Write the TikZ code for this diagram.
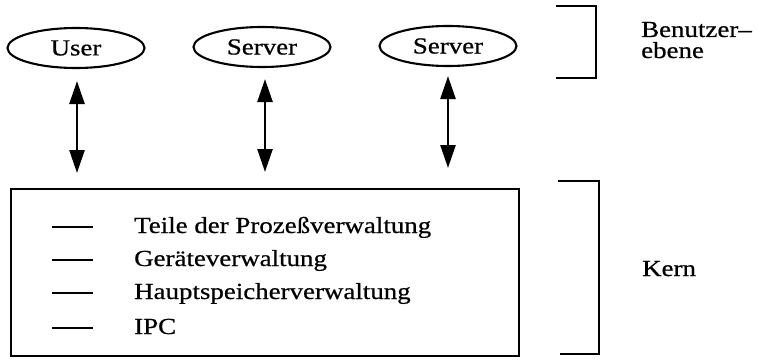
\documentclass[tikz,border=0pt]{standalone}
\usepackage{fontspec}
\setmainfont{Liberation Serif}[FakeStretch=1.17,FakeBold=0.6]
\usetikzlibrary{arrows.meta,shapes.geometric}

\begin{document}
\begin{tikzpicture}[x=1pt,y=-1pt,
  txt/.style={font=\fontsize{23}{21}\selectfont, inner sep=0pt},
  proc/.style={draw, ellipse, line width=2.1pt, minimum width=137pt,
    minimum height=40pt, inner sep=0pt, font=\fontsize{23}{26}\selectfont},
  link/.style={line width=2.6pt,
    {Triangle[length=23pt,width=15pt]}-{Triangle[length=23pt,width=15pt]}},
  frame/.style={line width=2.1pt},
  bar/.style={line width=2.2pt},
  ]
\useasboundingbox (0,0) rectangle (757,361);

% user-level processes
\node[proc] (user) at (76,48) {User};
\node[proc] (srvA) at (262,47) {Server};
\node[proc] (srvB) at (448,46) {Server};

% kernel box
\node[draw, frame, minimum width=508pt, minimum height=167pt,
  anchor=north west, inner sep=0pt] (kern) at (10,188) {};

% kernel services
\node[txt, anchor=base west] (t1) at (134,233) {Teile der Prozeßverwaltung};
\node[txt, anchor=base west] (t2) at (134,266) {Geräteverwaltung};
\node[txt, anchor=base west] (t3) at (134,299) {Hauptspeicherverwaltung};
\node[txt, anchor=base west] (t4) at (134,334) {IPC};
\foreach \t in {t1,t2,t3,t4}
  \draw[bar] ([xshift=-82pt,yshift=6pt]\t.base west) -- ++(41,0);

% communication between user level and kernel
\draw[link, shorten <=12pt, shorten >=15pt]
  ([xshift=1pt]user.south) -- ([xshift=1pt]user.south |- kern.north);
\draw[link, shorten <=11pt, shorten >=16pt]
  ([xshift=3pt]srvA.south) -- ([xshift=3pt]srvA.south |- kern.north);
\draw[link, shorten <=9pt, shorten >=20pt]
  (srvB.south) -- (srvB.south |- kern.north);

% level brackets
\draw[frame] (556,6) -- (596,6) -- (596,78) -- (556,78);
\draw[frame] (558,181) -- (599,181) -- (599,354) -- (560,354);

% level labels
\node[txt, anchor=base west] (lvlU) at (641,37) {Benutzer--};
\node[txt, anchor=base west] (lvlE) at (641,58) {ebene};
\node[txt, anchor=base west] (lvlK) at (642,276) {Kern};
\end{tikzpicture}
\end{document}
